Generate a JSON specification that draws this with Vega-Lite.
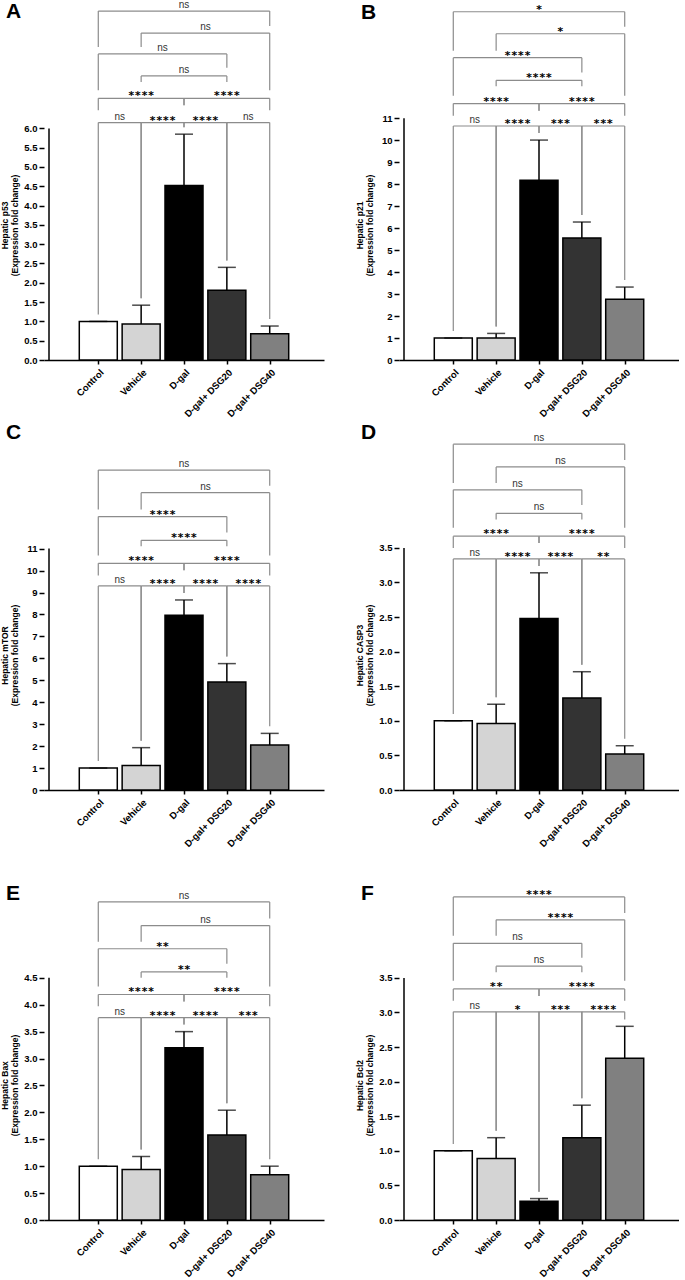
{
"$schema":"https://vega.github.io/schema/vega-lite/v6.json",
"padding":{"left":0,"top":0,"right":0,"bottom":0},
"background":"white",
"config":{
 "view":{"stroke":null},
 "scale":{"nice":false},
 "axis":{"labelFont":"Liberation Sans","titleFont":"Liberation Sans","labelColor":"black","titleColor":"black","labelFontWeight":"bold","titleFontWeight":"bold","labelFontSize":9.5,"titleFontSize":8.5,"tickColor":"black","domainColor":"black","tickWidth":1.5,"domainWidth":1.5,"grid":false,"labelOverlap":false,"tickCount":30},
 "axisY":{"domain":false,"tickSize":5,"labelPadding":2,"titleX":-40,"titleY":224,"titleBaseline":"middle","titleAlign":"center","titleLineHeight":10},
 "axisX":{"tickSize":4,"labelAngle":-45,"labelPadding":3,"title":null},
 "title":{"anchor":"start","frame":"group","fontSize":21,"font":"Liberation Sans","fontWeight":"bold","color":"black","dx":-38,"offset":-26}
},
"datasets":{"d":[
{"p":"A","k":"bar","i":0,"g":"Control","m":1.0,"e":1.0},
{"p":"A","k":"bar","i":1,"g":"Vehicle","m":0.93,"e":1.42},
{"p":"A","k":"bar","i":2,"g":"D-gal","m":4.52,"e":5.85},
{"p":"A","k":"bar","i":3,"g":"D-gal+ DSG20","m":1.81,"e":2.40},
{"p":"A","k":"bar","i":4,"g":"D-gal+ DSG40","m":0.68,"e":0.88},
{"p":"B","k":"bar","i":0,"g":"Control","m":1.0,"e":1.0},
{"p":"B","k":"bar","i":1,"g":"Vehicle","m":1.0,"e":1.21},
{"p":"B","k":"bar","i":2,"g":"D-gal","m":8.18,"e":10.01},
{"p":"B","k":"bar","i":3,"g":"D-gal+ DSG20","m":5.55,"e":6.28},
{"p":"B","k":"bar","i":4,"g":"D-gal+ DSG40","m":2.76,"e":3.32},
{"p":"C","k":"bar","i":0,"g":"Control","m":1.0,"e":1.0},
{"p":"C","k":"bar","i":1,"g":"Vehicle","m":1.12,"e":1.93},
{"p":"C","k":"bar","i":2,"g":"D-gal","m":7.96,"e":8.66},
{"p":"C","k":"bar","i":3,"g":"D-gal+ DSG20","m":4.92,"e":5.76},
{"p":"C","k":"bar","i":4,"g":"D-gal+ DSG40","m":2.05,"e":2.58},
{"p":"D","k":"bar","i":0,"g":"Control","m":1.0,"e":1.0},
{"p":"D","k":"bar","i":1,"g":"Vehicle","m":0.96,"e":1.24},
{"p":"D","k":"bar","i":2,"g":"D-gal","m":2.48,"e":3.14},
{"p":"D","k":"bar","i":3,"g":"D-gal+ DSG20","m":1.33,"e":1.71},
{"p":"D","k":"bar","i":4,"g":"D-gal+ DSG40","m":0.52,"e":0.64},
{"p":"E","k":"bar","i":0,"g":"Control","m":1.0,"e":1.0},
{"p":"E","k":"bar","i":1,"g":"Vehicle","m":0.94,"e":1.18},
{"p":"E","k":"bar","i":2,"g":"D-gal","m":3.20,"e":3.50},
{"p":"E","k":"bar","i":3,"g":"D-gal+ DSG20","m":1.58,"e":2.04},
{"p":"E","k":"bar","i":4,"g":"D-gal+ DSG40","m":0.84,"e":1.00},
{"p":"F","k":"bar","i":0,"g":"Control","m":1.0,"e":1.0},
{"p":"F","k":"bar","i":1,"g":"Vehicle","m":0.89,"e":1.19},
{"p":"F","k":"bar","i":2,"g":"D-gal","m":0.27,"e":0.31},
{"p":"F","k":"bar","i":3,"g":"D-gal+ DSG20","m":1.19,"e":1.66},
{"p":"F","k":"bar","i":4,"g":"D-gal+ DSG40","m":2.34,"e":2.80},

{"p":"A","k":"br","id":1,"i":0,"y":6.15,"b":1.18,"lab":"ns"},
{"p":"A","k":"br","id":1,"i":1,"y":6.15,"b":1.60,"lab":"ns"},
{"p":"A","k":"br","id":2,"i":1,"y":6.15,"b":1.60,"lab":"****"},
{"p":"A","k":"br","id":2,"i":2,"y":6.15,"b":6.03,"lab":"****"},
{"p":"A","k":"br","id":3,"i":2,"y":6.15,"b":6.03,"lab":"****"},
{"p":"A","k":"br","id":3,"i":3,"y":6.15,"b":2.58,"lab":"****"},
{"p":"A","k":"br","id":4,"i":3,"y":6.15,"b":2.58,"lab":"ns"},
{"p":"A","k":"br","id":4,"i":4,"y":6.15,"b":1.06,"lab":"ns"},
{"p":"A","k":"br","id":5,"i":0,"y":6.78,"b":6.47,"lab":"****"},
{"p":"A","k":"br","id":5,"i":2,"y":6.78,"b":6.60,"lab":"****"},
{"p":"A","k":"br","id":6,"i":2,"y":6.78,"b":6.60,"lab":"****"},
{"p":"A","k":"br","id":6,"i":4,"y":6.78,"b":6.47,"lab":"****"},
{"p":"A","k":"br","id":7,"i":1,"y":7.36,"b":7.20,"lab":"ns"},
{"p":"A","k":"br","id":7,"i":3,"y":7.36,"b":7.20,"lab":"ns"},
{"p":"A","k":"br","id":8,"i":0,"y":7.93,"b":6.99,"lab":"ns"},
{"p":"A","k":"br","id":8,"i":3,"y":7.93,"b":7.57,"lab":"ns"},
{"p":"A","k":"br","id":9,"i":1,"y":8.47,"b":8.11,"lab":"ns"},
{"p":"A","k":"br","id":9,"i":4,"y":8.47,"b":6.99,"lab":"ns"},
{"p":"A","k":"br","id":10,"i":0,"y":9.04,"b":8.11,"lab":"ns"},
{"p":"A","k":"br","id":10,"i":4,"y":9.04,"b":8.65,"lab":"ns"},

{"p":"B","k":"br","id":1,"i":0,"y":10.65,"b":1.32,"lab":"ns"},
{"p":"B","k":"br","id":1,"i":1,"y":10.65,"b":1.53,"lab":"ns"},
{"p":"B","k":"br","id":2,"i":1,"y":10.65,"b":1.53,"lab":"****"},
{"p":"B","k":"br","id":2,"i":2,"y":10.65,"b":10.33,"lab":"****"},
{"p":"B","k":"br","id":3,"i":2,"y":10.65,"b":10.33,"lab":"***"},
{"p":"B","k":"br","id":3,"i":3,"y":10.65,"b":6.60,"lab":"***"},
{"p":"B","k":"br","id":4,"i":3,"y":10.65,"b":6.60,"lab":"***"},
{"p":"B","k":"br","id":4,"i":4,"y":10.65,"b":3.64,"lab":"***"},
{"p":"B","k":"br","id":5,"i":0,"y":11.67,"b":11.12,"lab":"****"},
{"p":"B","k":"br","id":5,"i":2,"y":11.67,"b":11.35,"lab":"****"},
{"p":"B","k":"br","id":6,"i":2,"y":11.67,"b":11.35,"lab":"****"},
{"p":"B","k":"br","id":6,"i":4,"y":11.67,"b":11.12,"lab":"****"},
{"p":"B","k":"br","id":7,"i":1,"y":12.73,"b":12.46,"lab":"****"},
{"p":"B","k":"br","id":7,"i":3,"y":12.73,"b":12.46,"lab":"****"},
{"p":"B","k":"br","id":8,"i":0,"y":13.76,"b":12.03,"lab":"****"},
{"p":"B","k":"br","id":8,"i":3,"y":13.76,"b":13.09,"lab":"****"},
{"p":"B","k":"br","id":9,"i":1,"y":14.85,"b":14.08,"lab":"*"},
{"p":"B","k":"br","id":9,"i":4,"y":14.85,"b":12.03,"lab":"*"},
{"p":"B","k":"br","id":10,"i":0,"y":15.85,"b":14.08,"lab":"*"},
{"p":"B","k":"br","id":10,"i":4,"y":15.85,"b":15.17,"lab":"*"},

{"p":"C","k":"br","id":1,"i":0,"y":9.30,"b":1.32,"lab":"ns"},
{"p":"C","k":"br","id":1,"i":1,"y":9.30,"b":2.25,"lab":"ns"},
{"p":"C","k":"br","id":2,"i":1,"y":9.30,"b":2.25,"lab":"****"},
{"p":"C","k":"br","id":2,"i":2,"y":9.30,"b":8.98,"lab":"****"},
{"p":"C","k":"br","id":3,"i":2,"y":9.30,"b":8.98,"lab":"****"},
{"p":"C","k":"br","id":3,"i":3,"y":9.30,"b":6.08,"lab":"****"},
{"p":"C","k":"br","id":4,"i":3,"y":9.30,"b":6.08,"lab":"****"},
{"p":"C","k":"br","id":4,"i":4,"y":9.30,"b":2.90,"lab":"****"},
{"p":"C","k":"br","id":5,"i":0,"y":10.33,"b":9.78,"lab":"****"},
{"p":"C","k":"br","id":5,"i":2,"y":10.33,"b":10.01,"lab":"****"},
{"p":"C","k":"br","id":6,"i":2,"y":10.33,"b":10.01,"lab":"****"},
{"p":"C","k":"br","id":6,"i":4,"y":10.33,"b":9.78,"lab":"****"},
{"p":"C","k":"br","id":7,"i":1,"y":11.38,"b":11.11,"lab":"****"},
{"p":"C","k":"br","id":7,"i":3,"y":11.38,"b":11.11,"lab":"****"},
{"p":"C","k":"br","id":8,"i":0,"y":12.46,"b":10.69,"lab":"****"},
{"p":"C","k":"br","id":8,"i":3,"y":12.46,"b":11.74,"lab":"****"},
{"p":"C","k":"br","id":9,"i":1,"y":13.55,"b":12.78,"lab":"ns"},
{"p":"C","k":"br","id":9,"i":4,"y":13.55,"b":10.69,"lab":"ns"},
{"p":"C","k":"br","id":10,"i":0,"y":14.58,"b":12.78,"lab":"ns"},
{"p":"C","k":"br","id":10,"i":4,"y":14.58,"b":13.87,"lab":"ns"},

{"p":"D","k":"br","id":1,"i":0,"y":3.34,"b":1.10,"lab":"ns"},
{"p":"D","k":"br","id":1,"i":1,"y":3.34,"b":1.34,"lab":"ns"},
{"p":"D","k":"br","id":2,"i":1,"y":3.34,"b":1.34,"lab":"****"},
{"p":"D","k":"br","id":2,"i":2,"y":3.34,"b":3.24,"lab":"****"},
{"p":"D","k":"br","id":3,"i":2,"y":3.34,"b":3.24,"lab":"****"},
{"p":"D","k":"br","id":3,"i":3,"y":3.34,"b":1.81,"lab":"****"},
{"p":"D","k":"br","id":4,"i":3,"y":3.34,"b":1.81,"lab":"**"},
{"p":"D","k":"br","id":4,"i":4,"y":3.34,"b":0.74,"lab":"**"},
{"p":"D","k":"br","id":5,"i":0,"y":3.67,"b":3.50,"lab":"****"},
{"p":"D","k":"br","id":5,"i":2,"y":3.67,"b":3.57,"lab":"****"},
{"p":"D","k":"br","id":6,"i":2,"y":3.67,"b":3.57,"lab":"****"},
{"p":"D","k":"br","id":6,"i":4,"y":3.67,"b":3.50,"lab":"****"},
{"p":"D","k":"br","id":7,"i":1,"y":4.00,"b":3.91,"lab":"ns"},
{"p":"D","k":"br","id":7,"i":3,"y":4.00,"b":3.91,"lab":"ns"},
{"p":"D","k":"br","id":8,"i":0,"y":4.34,"b":3.79,"lab":"ns"},
{"p":"D","k":"br","id":8,"i":3,"y":4.34,"b":4.12,"lab":"ns"},
{"p":"D","k":"br","id":9,"i":1,"y":4.67,"b":4.44,"lab":"ns"},
{"p":"D","k":"br","id":9,"i":4,"y":4.67,"b":3.79,"lab":"ns"},
{"p":"D","k":"br","id":10,"i":0,"y":5.00,"b":4.44,"lab":"ns"},
{"p":"D","k":"br","id":10,"i":4,"y":5.00,"b":4.77,"lab":"ns"},

{"p":"E","k":"br","id":1,"i":0,"y":3.76,"b":1.13,"lab":"ns"},
{"p":"E","k":"br","id":1,"i":1,"y":3.76,"b":1.31,"lab":"ns"},
{"p":"E","k":"br","id":2,"i":1,"y":3.76,"b":1.31,"lab":"****"},
{"p":"E","k":"br","id":2,"i":2,"y":3.76,"b":3.63,"lab":"****"},
{"p":"E","k":"br","id":3,"i":2,"y":3.76,"b":3.63,"lab":"****"},
{"p":"E","k":"br","id":3,"i":3,"y":3.76,"b":2.17,"lab":"****"},
{"p":"E","k":"br","id":4,"i":3,"y":3.76,"b":2.17,"lab":"***"},
{"p":"E","k":"br","id":4,"i":4,"y":3.76,"b":1.13,"lab":"***"},
{"p":"E","k":"br","id":5,"i":0,"y":4.19,"b":3.97,"lab":"****"},
{"p":"E","k":"br","id":5,"i":2,"y":4.19,"b":4.06,"lab":"****"},
{"p":"E","k":"br","id":6,"i":2,"y":4.19,"b":4.06,"lab":"****"},
{"p":"E","k":"br","id":6,"i":4,"y":4.19,"b":3.97,"lab":"****"},
{"p":"E","k":"br","id":7,"i":1,"y":4.61,"b":4.50,"lab":"**"},
{"p":"E","k":"br","id":7,"i":3,"y":4.61,"b":4.50,"lab":"**"},
{"p":"E","k":"br","id":8,"i":0,"y":5.04,"b":4.34,"lab":"**"},
{"p":"E","k":"br","id":8,"i":3,"y":5.04,"b":4.76,"lab":"**"},
{"p":"E","k":"br","id":9,"i":1,"y":5.47,"b":5.17,"lab":"ns"},
{"p":"E","k":"br","id":9,"i":4,"y":5.47,"b":4.34,"lab":"ns"},
{"p":"E","k":"br","id":10,"i":0,"y":5.91,"b":5.17,"lab":"ns"},
{"p":"E","k":"br","id":10,"i":4,"y":5.91,"b":5.60,"lab":"ns"},

{"p":"F","k":"br","id":1,"i":0,"y":3.01,"b":1.10,"lab":"ns"},
{"p":"F","k":"br","id":1,"i":1,"y":3.01,"b":1.29,"lab":"ns"},
{"p":"F","k":"br","id":2,"i":1,"y":3.01,"b":1.29,"lab":"*"},
{"p":"F","k":"br","id":2,"i":2,"y":3.01,"b":0.41,"lab":"*"},
{"p":"F","k":"br","id":3,"i":2,"y":3.01,"b":0.41,"lab":"***"},
{"p":"F","k":"br","id":3,"i":3,"y":3.01,"b":1.76,"lab":"***"},
{"p":"F","k":"br","id":4,"i":3,"y":3.01,"b":1.76,"lab":"****"},
{"p":"F","k":"br","id":4,"i":4,"y":3.01,"b":2.90,"lab":"****"},
{"p":"F","k":"br","id":5,"i":0,"y":3.34,"b":3.17,"lab":"**"},
{"p":"F","k":"br","id":5,"i":2,"y":3.34,"b":3.24,"lab":"**"},
{"p":"F","k":"br","id":6,"i":2,"y":3.34,"b":3.24,"lab":"****"},
{"p":"F","k":"br","id":6,"i":4,"y":3.34,"b":3.17,"lab":"****"},
{"p":"F","k":"br","id":7,"i":1,"y":3.67,"b":3.58,"lab":"ns"},
{"p":"F","k":"br","id":7,"i":3,"y":3.67,"b":3.58,"lab":"ns"},
{"p":"F","k":"br","id":8,"i":0,"y":4.00,"b":3.46,"lab":"ns"},
{"p":"F","k":"br","id":8,"i":3,"y":4.00,"b":3.79,"lab":"ns"},
{"p":"F","k":"br","id":9,"i":1,"y":4.34,"b":4.11,"lab":"****"},
{"p":"F","k":"br","id":9,"i":4,"y":4.34,"b":3.46,"lab":"****"},
{"p":"F","k":"br","id":10,"i":0,"y":4.67,"b":4.11,"lab":"****"},
{"p":"F","k":"br","id":10,"i":4,"y":4.67,"b":4.44,"lab":"****"}
]},
"columns":2,
"spacing":{"row":71,"column":75},
"bounds":"flush",
"concat":[
{"width":280,"height":359,"title":{"text":"A","offset":-22},"data":{"name":"d"},"transform":[{"filter":"datum.p=='A'"}],
 "layer":[
  {"transform":[{"filter":"datum.k=='bar'"}],"mark":{"type":"bar","orient":"vertical","size":38,"stroke":"black","strokeWidth":1.5},
   "encoding":{"x":{"field":"i","type":"quantitative","scale":{"domain":[-1.15,5.15],"nice":false,"zero":false},"axis":{"values":[0,1,2,3,4],"labelOverlap":false,"labelExpr":"['Control','Vehicle','D-gal','D-gal+ DSG20','D-gal+ DSG40'][datum.value]"}},
    "y":{"field":"m","type":"quantitative","scale":{"domain":[0,9.3],"nice":false},"axis":{"values":[0,0.5,1,1.5,2,2.5,3,3.5,4,4.5,5,5.5,6],"tickCount":30,"labelOverlap":false,"format":".1f","title":["Hepatic p53","(Expression fold change)"]}},
    "fill":{"field":"g","type":"nominal","scale":{"domain":["Control","Vehicle","D-gal","D-gal+ DSG20","D-gal+ DSG40"],"range":["#ffffff","#d4d4d4","#000000","#333333","#808080"]},"legend":null}}},
  {"transform":[{"filter":"datum.k=='bar'"}],"mark":{"type":"rule","color":"black","strokeWidth":1.5},"encoding":{"x":{"field":"i","type":"quantitative"},"y":{"field":"m","type":"quantitative"},"y2":{"field":"e"}}},
  {"transform":[{"filter":"datum.k=='bar'"}],"mark":{"type":"tick","orient":"horizontal","size":18,"thickness":1.5,"color":"black"},"encoding":{"x":{"field":"i","type":"quantitative"},"y":{"field":"e","type":"quantitative"}}},
  {"transform":[{"filter":"datum.k=='bar' && datum.i==0"}],"mark":{"type":"rule","color":"black","strokeWidth":1.5},"encoding":{"x":{"datum":-1.15,"type":"quantitative"},"y":{"datum":0,"type":"quantitative"},"y2":{"datum":6}}},
  {"transform":[{"filter":"datum.k=='br'"}],"mark":{"type":"rule","color":"#8c8c8c","strokeWidth":1.2},"encoding":{"x":{"aggregate":"min","field":"i","type":"quantitative"},"x2":{"aggregate":"max","field":"i"},"y":{"field":"y","type":"quantitative"},"detail":{"field":"id","type":"nominal"}}},
  {"transform":[{"filter":"datum.k=='br'"}],"mark":{"type":"rule","color":"#8c8c8c","strokeWidth":1.2},"encoding":{"x":{"field":"i","type":"quantitative"},"y":{"field":"b","type":"quantitative"},"y2":{"field":"y"}}},
  {"transform":[{"filter":"datum.k=='br' && datum.lab=='ns'"}],"mark":{"type":"text","font":"Liberation Sans","fontSize":10,"color":"#333333","baseline":"alphabetic","dy":-3},"encoding":{"x":{"aggregate":"mean","field":"i","type":"quantitative"},"y":{"field":"y","type":"quantitative"},"text":{"field":"lab"},"detail":{"field":"id","type":"nominal"}}},
  {"transform":[{"filter":"datum.k=='br' && datum.lab!='ns'"}],"mark":{"type":"text","font":"DejaVu Sans Mono","fontWeight":"bold","fontSize":11,"color":"black","baseline":"alphabetic","dy":1},"encoding":{"x":{"aggregate":"mean","field":"i","type":"quantitative"},"y":{"field":"y","type":"quantitative"},"text":{"field":"lab"},"detail":{"field":"id","type":"nominal"}}}
 ]},
{"width":280,"height":359,"title":{"text":"B","offset":-22},"data":{"name":"d"},"transform":[{"filter":"datum.p=='B'"}],
 "layer":[
  {"transform":[{"filter":"datum.k=='bar'"}],"mark":{"type":"bar","orient":"vertical","size":38,"stroke":"black","strokeWidth":1.5},
   "encoding":{"x":{"field":"i","type":"quantitative","scale":{"domain":[-1.15,5.15],"nice":false,"zero":false},"axis":{"values":[0,1,2,3,4],"labelOverlap":false,"labelExpr":"['Control','Vehicle','D-gal','D-gal+ DSG20','D-gal+ DSG40'][datum.value]"}},
    "y":{"field":"m","type":"quantitative","scale":{"domain":[0,16.34],"nice":false},"axis":{"values":[0,1,2,3,4,5,6,7,8,9,10,11],"tickCount":30,"labelOverlap":false,"format":"d","title":["Hepatic p21","(Expression fold change)"]}},
    "fill":{"field":"g","type":"nominal","scale":{"domain":["Control","Vehicle","D-gal","D-gal+ DSG20","D-gal+ DSG40"],"range":["#ffffff","#d4d4d4","#000000","#333333","#808080"]},"legend":null}}},
  {"transform":[{"filter":"datum.k=='bar'"}],"mark":{"type":"rule","color":"black","strokeWidth":1.5},"encoding":{"x":{"field":"i","type":"quantitative"},"y":{"field":"m","type":"quantitative"},"y2":{"field":"e"}}},
  {"transform":[{"filter":"datum.k=='bar'"}],"mark":{"type":"tick","orient":"horizontal","size":18,"thickness":1.5,"color":"black"},"encoding":{"x":{"field":"i","type":"quantitative"},"y":{"field":"e","type":"quantitative"}}},
  {"transform":[{"filter":"datum.k=='bar' && datum.i==0"}],"mark":{"type":"rule","color":"black","strokeWidth":1.5},"encoding":{"x":{"datum":-1.15,"type":"quantitative"},"y":{"datum":0,"type":"quantitative"},"y2":{"datum":11}}},
  {"transform":[{"filter":"datum.k=='br'"}],"mark":{"type":"rule","color":"#8c8c8c","strokeWidth":1.2},"encoding":{"x":{"aggregate":"min","field":"i","type":"quantitative"},"x2":{"aggregate":"max","field":"i"},"y":{"field":"y","type":"quantitative"},"detail":{"field":"id","type":"nominal"}}},
  {"transform":[{"filter":"datum.k=='br'"}],"mark":{"type":"rule","color":"#8c8c8c","strokeWidth":1.2},"encoding":{"x":{"field":"i","type":"quantitative"},"y":{"field":"b","type":"quantitative"},"y2":{"field":"y"}}},
  {"transform":[{"filter":"datum.k=='br' && datum.lab=='ns'"}],"mark":{"type":"text","font":"Liberation Sans","fontSize":10,"color":"#333333","baseline":"alphabetic","dy":-3},"encoding":{"x":{"aggregate":"mean","field":"i","type":"quantitative"},"y":{"field":"y","type":"quantitative"},"text":{"field":"lab"},"detail":{"field":"id","type":"nominal"}}},
  {"transform":[{"filter":"datum.k=='br' && datum.lab!='ns'"}],"mark":{"type":"text","font":"DejaVu Sans Mono","fontWeight":"bold","fontSize":11,"color":"black","baseline":"alphabetic","dy":1},"encoding":{"x":{"aggregate":"mean","field":"i","type":"quantitative"},"y":{"field":"y","type":"quantitative"},"text":{"field":"lab"},"detail":{"field":"id","type":"nominal"}}}
 ]},
{"width":280,"height":359,"title":{"text":"C","offset":-12},"data":{"name":"d"},"transform":[{"filter":"datum.p=='C'"}],
 "layer":[
  {"transform":[{"filter":"datum.k=='bar'"}],"mark":{"type":"bar","orient":"vertical","size":38,"stroke":"black","strokeWidth":1.5},
   "encoding":{"x":{"field":"i","type":"quantitative","scale":{"domain":[-1.15,5.15],"nice":false,"zero":false},"axis":{"values":[0,1,2,3,4],"labelOverlap":false,"labelExpr":"['Control','Vehicle','D-gal','D-gal+ DSG20','D-gal+ DSG40'][datum.value]"}},
    "y":{"field":"m","type":"quantitative","scale":{"domain":[0,16.36],"nice":false},"axis":{"values":[0,1,2,3,4,5,6,7,8,9,10,11],"tickCount":30,"labelOverlap":false,"format":"d","title":["Hepatic mTOR","(Expression fold change)"]}},
    "fill":{"field":"g","type":"nominal","scale":{"domain":["Control","Vehicle","D-gal","D-gal+ DSG20","D-gal+ DSG40"],"range":["#ffffff","#d4d4d4","#000000","#333333","#808080"]},"legend":null}}},
  {"transform":[{"filter":"datum.k=='bar'"}],"mark":{"type":"rule","color":"black","strokeWidth":1.5},"encoding":{"x":{"field":"i","type":"quantitative"},"y":{"field":"m","type":"quantitative"},"y2":{"field":"e"}}},
  {"transform":[{"filter":"datum.k=='bar'"}],"mark":{"type":"tick","orient":"horizontal","size":18,"thickness":1.5,"color":"black"},"encoding":{"x":{"field":"i","type":"quantitative"},"y":{"field":"e","type":"quantitative"}}},
  {"transform":[{"filter":"datum.k=='bar' && datum.i==0"}],"mark":{"type":"rule","color":"black","strokeWidth":1.5},"encoding":{"x":{"datum":-1.15,"type":"quantitative"},"y":{"datum":0,"type":"quantitative"},"y2":{"datum":11}}},
  {"transform":[{"filter":"datum.k=='br'"}],"mark":{"type":"rule","color":"#8c8c8c","strokeWidth":1.2},"encoding":{"x":{"aggregate":"min","field":"i","type":"quantitative"},"x2":{"aggregate":"max","field":"i"},"y":{"field":"y","type":"quantitative"},"detail":{"field":"id","type":"nominal"}}},
  {"transform":[{"filter":"datum.k=='br'"}],"mark":{"type":"rule","color":"#8c8c8c","strokeWidth":1.2},"encoding":{"x":{"field":"i","type":"quantitative"},"y":{"field":"b","type":"quantitative"},"y2":{"field":"y"}}},
  {"transform":[{"filter":"datum.k=='br' && datum.lab=='ns'"}],"mark":{"type":"text","font":"Liberation Sans","fontSize":10,"color":"#333333","baseline":"alphabetic","dy":-3},"encoding":{"x":{"aggregate":"mean","field":"i","type":"quantitative"},"y":{"field":"y","type":"quantitative"},"text":{"field":"lab"},"detail":{"field":"id","type":"nominal"}}},
  {"transform":[{"filter":"datum.k=='br' && datum.lab!='ns'"}],"mark":{"type":"text","font":"DejaVu Sans Mono","fontWeight":"bold","fontSize":11,"color":"black","baseline":"alphabetic","dy":1},"encoding":{"x":{"aggregate":"mean","field":"i","type":"quantitative"},"y":{"field":"y","type":"quantitative"},"text":{"field":"lab"},"detail":{"field":"id","type":"nominal"}}}
 ]},
{"width":280,"height":359,"title":{"text":"D","offset":-12},"data":{"name":"d"},"transform":[{"filter":"datum.p=='D'"}],
 "layer":[
  {"transform":[{"filter":"datum.k=='bar'"}],"mark":{"type":"bar","orient":"vertical","size":38,"stroke":"black","strokeWidth":1.5},
   "encoding":{"x":{"field":"i","type":"quantitative","scale":{"domain":[-1.15,5.15],"nice":false,"zero":false},"axis":{"values":[0,1,2,3,4],"labelOverlap":false,"labelExpr":"['Control','Vehicle','D-gal','D-gal+ DSG20','D-gal+ DSG40'][datum.value]"}},
    "y":{"field":"m","type":"quantitative","scale":{"domain":[0,5.19],"nice":false},"axis":{"values":[0,0.5,1,1.5,2,2.5,3,3.5],"tickCount":30,"labelOverlap":false,"format":".1f","title":["Hepatic CASP3","(Expression fold change)"]}},
    "fill":{"field":"g","type":"nominal","scale":{"domain":["Control","Vehicle","D-gal","D-gal+ DSG20","D-gal+ DSG40"],"range":["#ffffff","#d4d4d4","#000000","#333333","#808080"]},"legend":null}}},
  {"transform":[{"filter":"datum.k=='bar'"}],"mark":{"type":"rule","color":"black","strokeWidth":1.5},"encoding":{"x":{"field":"i","type":"quantitative"},"y":{"field":"m","type":"quantitative"},"y2":{"field":"e"}}},
  {"transform":[{"filter":"datum.k=='bar'"}],"mark":{"type":"tick","orient":"horizontal","size":18,"thickness":1.5,"color":"black"},"encoding":{"x":{"field":"i","type":"quantitative"},"y":{"field":"e","type":"quantitative"}}},
  {"transform":[{"filter":"datum.k=='bar' && datum.i==0"}],"mark":{"type":"rule","color":"black","strokeWidth":1.5},"encoding":{"x":{"datum":-1.15,"type":"quantitative"},"y":{"datum":0,"type":"quantitative"},"y2":{"datum":3.5}}},
  {"transform":[{"filter":"datum.k=='br'"}],"mark":{"type":"rule","color":"#8c8c8c","strokeWidth":1.2},"encoding":{"x":{"aggregate":"min","field":"i","type":"quantitative"},"x2":{"aggregate":"max","field":"i"},"y":{"field":"y","type":"quantitative"},"detail":{"field":"id","type":"nominal"}}},
  {"transform":[{"filter":"datum.k=='br'"}],"mark":{"type":"rule","color":"#8c8c8c","strokeWidth":1.2},"encoding":{"x":{"field":"i","type":"quantitative"},"y":{"field":"b","type":"quantitative"},"y2":{"field":"y"}}},
  {"transform":[{"filter":"datum.k=='br' && datum.lab=='ns'"}],"mark":{"type":"text","font":"Liberation Sans","fontSize":10,"color":"#333333","baseline":"alphabetic","dy":-3},"encoding":{"x":{"aggregate":"mean","field":"i","type":"quantitative"},"y":{"field":"y","type":"quantitative"},"text":{"field":"lab"},"detail":{"field":"id","type":"nominal"}}},
  {"transform":[{"filter":"datum.k=='br' && datum.lab!='ns'"}],"mark":{"type":"text","font":"DejaVu Sans Mono","fontWeight":"bold","fontSize":11,"color":"black","baseline":"alphabetic","dy":1},"encoding":{"x":{"aggregate":"mean","field":"i","type":"quantitative"},"y":{"field":"y","type":"quantitative"},"text":{"field":"lab"},"detail":{"field":"id","type":"nominal"}}}
 ]},
{"width":280,"height":359,"title":{"text":"E","offset":-43},"data":{"name":"d"},"transform":[{"filter":"datum.p=='E'"}],
 "layer":[
  {"transform":[{"filter":"datum.k=='bar'"}],"mark":{"type":"bar","orient":"vertical","size":38,"stroke":"black","strokeWidth":1.5},
   "encoding":{"x":{"field":"i","type":"quantitative","scale":{"domain":[-1.15,5.15],"nice":false,"zero":false},"axis":{"values":[0,1,2,3,4],"labelOverlap":false,"labelExpr":"['Control','Vehicle','D-gal','D-gal+ DSG20','D-gal+ DSG40'][datum.value]"}},
    "y":{"field":"m","type":"quantitative","scale":{"domain":[0,6.67],"nice":false},"axis":{"values":[0,0.5,1,1.5,2,2.5,3,3.5,4,4.5],"tickCount":30,"labelOverlap":false,"format":".1f","title":["Hepatic Bax","(Expression fold change)"]}},
    "fill":{"field":"g","type":"nominal","scale":{"domain":["Control","Vehicle","D-gal","D-gal+ DSG20","D-gal+ DSG40"],"range":["#ffffff","#d4d4d4","#000000","#333333","#808080"]},"legend":null}}},
  {"transform":[{"filter":"datum.k=='bar'"}],"mark":{"type":"rule","color":"black","strokeWidth":1.5},"encoding":{"x":{"field":"i","type":"quantitative"},"y":{"field":"m","type":"quantitative"},"y2":{"field":"e"}}},
  {"transform":[{"filter":"datum.k=='bar'"}],"mark":{"type":"tick","orient":"horizontal","size":18,"thickness":1.5,"color":"black"},"encoding":{"x":{"field":"i","type":"quantitative"},"y":{"field":"e","type":"quantitative"}}},
  {"transform":[{"filter":"datum.k=='bar' && datum.i==0"}],"mark":{"type":"rule","color":"black","strokeWidth":1.5},"encoding":{"x":{"datum":-1.15,"type":"quantitative"},"y":{"datum":0,"type":"quantitative"},"y2":{"datum":4.5}}},
  {"transform":[{"filter":"datum.k=='br'"}],"mark":{"type":"rule","color":"#8c8c8c","strokeWidth":1.2},"encoding":{"x":{"aggregate":"min","field":"i","type":"quantitative"},"x2":{"aggregate":"max","field":"i"},"y":{"field":"y","type":"quantitative"},"detail":{"field":"id","type":"nominal"}}},
  {"transform":[{"filter":"datum.k=='br'"}],"mark":{"type":"rule","color":"#8c8c8c","strokeWidth":1.2},"encoding":{"x":{"field":"i","type":"quantitative"},"y":{"field":"b","type":"quantitative"},"y2":{"field":"y"}}},
  {"transform":[{"filter":"datum.k=='br' && datum.lab=='ns'"}],"mark":{"type":"text","font":"Liberation Sans","fontSize":10,"color":"#333333","baseline":"alphabetic","dy":-3},"encoding":{"x":{"aggregate":"mean","field":"i","type":"quantitative"},"y":{"field":"y","type":"quantitative"},"text":{"field":"lab"},"detail":{"field":"id","type":"nominal"}}},
  {"transform":[{"filter":"datum.k=='br' && datum.lab!='ns'"}],"mark":{"type":"text","font":"DejaVu Sans Mono","fontWeight":"bold","fontSize":11,"color":"black","baseline":"alphabetic","dy":1},"encoding":{"x":{"aggregate":"mean","field":"i","type":"quantitative"},"y":{"field":"y","type":"quantitative"},"text":{"field":"lab"},"detail":{"field":"id","type":"nominal"}}}
 ]},
{"width":280,"height":359,"title":{"text":"F","offset":-43},"data":{"name":"d"},"transform":[{"filter":"datum.p=='F'"}],
 "layer":[
  {"transform":[{"filter":"datum.k=='bar'"}],"mark":{"type":"bar","orient":"vertical","size":38,"stroke":"black","strokeWidth":1.5},
   "encoding":{"x":{"field":"i","type":"quantitative","scale":{"domain":[-1.15,5.15],"nice":false,"zero":false},"axis":{"values":[0,1,2,3,4],"labelOverlap":false,"labelExpr":"['Control','Vehicle','D-gal','D-gal+ DSG20','D-gal+ DSG40'][datum.value]"}},
    "y":{"field":"m","type":"quantitative","scale":{"domain":[0,5.19],"nice":false},"axis":{"values":[0,0.5,1,1.5,2,2.5,3,3.5],"tickCount":30,"labelOverlap":false,"format":".1f","title":["Hepatic Bcl2","(Expression fold change)"]}},
    "fill":{"field":"g","type":"nominal","scale":{"domain":["Control","Vehicle","D-gal","D-gal+ DSG20","D-gal+ DSG40"],"range":["#ffffff","#d4d4d4","#000000","#333333","#808080"]},"legend":null}}},
  {"transform":[{"filter":"datum.k=='bar'"}],"mark":{"type":"rule","color":"black","strokeWidth":1.5},"encoding":{"x":{"field":"i","type":"quantitative"},"y":{"field":"m","type":"quantitative"},"y2":{"field":"e"}}},
  {"transform":[{"filter":"datum.k=='bar'"}],"mark":{"type":"tick","orient":"horizontal","size":18,"thickness":1.5,"color":"black"},"encoding":{"x":{"field":"i","type":"quantitative"},"y":{"field":"e","type":"quantitative"}}},
  {"transform":[{"filter":"datum.k=='bar' && datum.i==0"}],"mark":{"type":"rule","color":"black","strokeWidth":1.5},"encoding":{"x":{"datum":-1.15,"type":"quantitative"},"y":{"datum":0,"type":"quantitative"},"y2":{"datum":3.5}}},
  {"transform":[{"filter":"datum.k=='br'"}],"mark":{"type":"rule","color":"#8c8c8c","strokeWidth":1.2},"encoding":{"x":{"aggregate":"min","field":"i","type":"quantitative"},"x2":{"aggregate":"max","field":"i"},"y":{"field":"y","type":"quantitative"},"detail":{"field":"id","type":"nominal"}}},
  {"transform":[{"filter":"datum.k=='br'"}],"mark":{"type":"rule","color":"#8c8c8c","strokeWidth":1.2},"encoding":{"x":{"field":"i","type":"quantitative"},"y":{"field":"b","type":"quantitative"},"y2":{"field":"y"}}},
  {"transform":[{"filter":"datum.k=='br' && datum.lab=='ns'"}],"mark":{"type":"text","font":"Liberation Sans","fontSize":10,"color":"#333333","baseline":"alphabetic","dy":-3},"encoding":{"x":{"aggregate":"mean","field":"i","type":"quantitative"},"y":{"field":"y","type":"quantitative"},"text":{"field":"lab"},"detail":{"field":"id","type":"nominal"}}},
  {"transform":[{"filter":"datum.k=='br' && datum.lab!='ns'"}],"mark":{"type":"text","font":"DejaVu Sans Mono","fontWeight":"bold","fontSize":11,"color":"black","baseline":"alphabetic","dy":1},"encoding":{"x":{"aggregate":"mean","field":"i","type":"quantitative"},"y":{"field":"y","type":"quantitative"},"text":{"field":"lab"},"detail":{"field":"id","type":"nominal"}}}
 ]}
]
}
